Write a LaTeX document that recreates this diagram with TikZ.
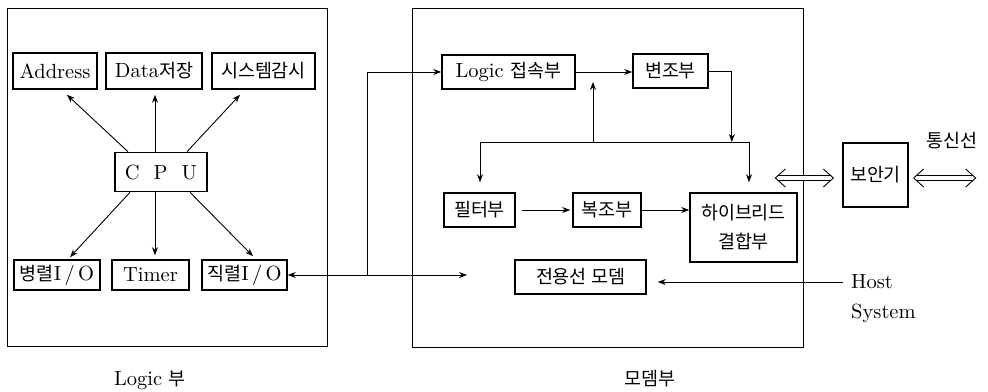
\documentclass[tikz,border=0pt]{standalone}
\usepackage{fontspec}
\setmainfont{lmroman10-regular.otf}
\newfontfamily\kr{Noto Sans CJK KR}[Scale=0.9]
\usetikzlibrary{arrows.meta,calc}
\begin{document}
\begin{tikzpicture}[x=1pt,y=-1pt,
 box/.style={draw,line width=1.6pt,inner sep=0pt,align=center},
 frame/.style={draw,line width=1pt},
 arr/.style={line width=0.9pt,-{Stealth[length=8pt,width=6pt]}},
 darr/.style={line width=0.9pt,{Stealth[length=8pt,width=6pt]}-{Stealth[length=8pt,width=6pt]}},
 ln/.style={line width=0.9pt},
 dline/.style={double,double distance=3.5pt,line width=0.8pt,shorten <=3pt,shorten >=3pt},
 chev/.style={line width=0.9pt,line join=miter},
 lbl/.style={inner sep=0pt},
 font=\fontsize{20.5}{24}\selectfont]
\useasboundingbox (0,0) rectangle (988,391);

% frames
\draw[frame] (7,8) rectangle (327,346);
\draw[frame] (412,8) rectangle (803,347);

% Logic part
\node[box,minimum width=84pt,minimum height=36pt] (addr) at (55,71) {Address};
\node[box,minimum width=96pt,minimum height=36pt] (data) at (154,71) {Data{\kr 저장}};
\node[box,minimum width=103pt,minimum height=36pt] (sys) at (263.5,71) {\kr 시스템감시};
\node[box,minimum width=92pt,minimum height=39pt] (cpu) at (161,172) {C\hspace{14pt}P\hspace{14pt}U};
\node[box,minimum width=86pt,minimum height=30pt] (par) at (57,275) {{\kr 병렬}I\,/\,O};
\node[box,minimum width=77pt,minimum height=30pt] (tim) at (150.5,275) {Timer};
\node[box,minimum width=85pt,minimum height=30pt] (ser) at (244.5,275) {{\kr 직렬}I\,/\,O};

\draw[arr] ($(cpu.north)+(-33,0)$) -- ($(addr.south)+(12,5)$);
\draw[arr] ($(cpu.north)+(-6,0)$) -- ($(data.south)+(1,5)$);
\draw[arr] ($(cpu.north)+(26,0)$) -- ($(sys.south)+(-23.5,5)$);
\draw[arr] ($(cpu.south)+(-31,0)$) -- ($(par.north)+(13,-2)$);
\draw[arr] ($(cpu.south)+(-6,0)$) -- ($(tim.north)+(4.5,-4)$);
\draw[arr] ($(cpu.south)+(29,0)$) -- ($(ser.north)+(8.5,-3)$);

% Modem part
\node[box,minimum width=133pt,minimum height=34pt] (lc) at (508.5,72) {Logic {\kr 접속부}};
\node[box,minimum width=75pt,minimum height=34pt] (bj) at (670.5,71) {\kr 변조부};
\node[box,minimum width=71pt,minimum height=34pt] (flt) at (479.5,210) {\kr 필터부};
\node[box,minimum width=68pt,minimum height=34pt] (bjj) at (607,210) {\kr 복조부};
\node[box,minimum width=107pt,minimum height=69pt] (hy) at (743.5,227.5) {{\kr 하이브리드}\\[5pt]{\kr 결합부}};
\node[box,minimum width=131pt,minimum height=34pt] (jm) at (580.5,277) {\kr 전용선 모뎀};
\node[box,line width=1.3pt,minimum width=65pt,minimum height=64pt] (bag) at (875.5,175) {\kr 보안기};

\coordinate (bus1) at (480,142);
\coordinate (bus2) at (749,142);
\coordinate (busup) at (593,142);

\draw[arr] (lc.east) -- (lc.east -| bj.west);
\draw[ln] (bj.east) -- ++(23,0) coordinate (bjr);
\draw[arr] (bjr) -- (bjr |- bus1);
\draw[ln] (bus1) -- (bus2);
\draw[arr] (bus2) -- ($(hy.north)+(5.5,-10)$);
\draw[arr] (bus1) -- ($(flt.north)+(0.5,-10)$);
\draw[arr] (busup) -- ($(busup |- lc.east)+(0,10)$);
\draw[arr,shorten <=6pt,shorten >=2pt] (flt.east) -- (bjj.west);
\draw[arr] (bjj.east) -- (bjj.east -| hy.west);

% Host system
\node[lbl,anchor=west] (host) at (851,282) {Host};
\node[lbl,anchor=west] (hsys) at (851,313) {System};
\draw[arr,shorten <=8pt,shorten >=11pt] (host.west) -- (host.west -| jm.east);

% serial link
\coordinate (mend) at (467,277);
\coordinate (jx) at (367,275);
\draw[darr] (ser.east) -- (ser.east -| mend);
\draw[arr] (jx) |- (lc.west);

% double arrows
\coordinate (dA1) at ($(bag.west)+(-67,3)$);
\coordinate (dA2) at ($(bag.west)+(-9,3)$);
\coordinate (dB1) at ($(bag.east)+(5,3)$);
\coordinate (dB2) at ($(bag.east)+(67,3)$);
\draw[dline] (dA1) -- (dA2);
\draw[dline] (dB1) -- (dB2);
\draw[chev] ($(dA1)+(10,-9)$) -- (dA1) -- ($(dA1)+(10,9)$);
\draw[chev] ($(dA2)+(-10,-9)$) -- (dA2) -- ($(dA2)+(-10,9)$);
\draw[chev] ($(dB1)+(10,-9)$) -- (dB1) -- ($(dB1)+(10,9)$);
\draw[chev] ($(dB2)+(-10,-9)$) -- (dB2) -- ($(dB2)+(-10,9)$);

% labels
\node[lbl] (lgl) at (150,380) {Logic {\kr 부}};
\node[lbl] (mdl) at (650,379) {\kr 모뎀부};
\node[lbl] (ts) at (952,141) {\kr 통신선};
\end{tikzpicture}
\end{document}
